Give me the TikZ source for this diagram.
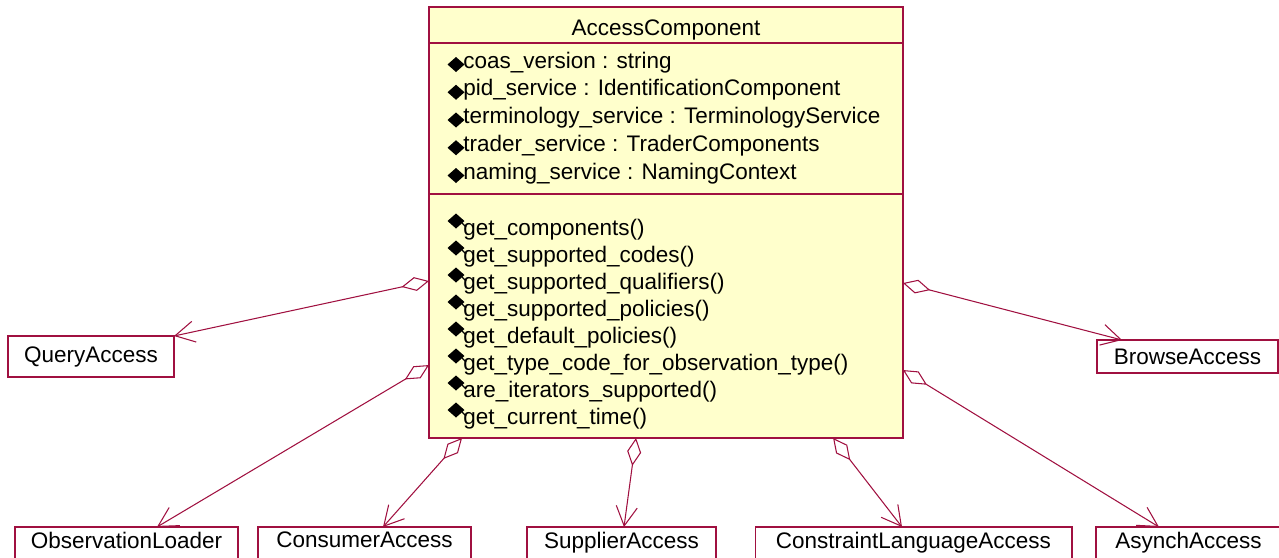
\documentclass[tikz,border=0pt]{standalone}
\usepackage{fontspec}
\setmainfont{Liberation Sans}
\usetikzlibrary{arrows.meta, positioning, calc}
\definecolor{umlred}{RGB}{160,16,64}
\definecolor{umlfill}{RGB}{255,255,204}
\newcommand{\umlfont}{\fontsize{12.8}{15}\selectfont}
\tikzset{
    classbox/.style={
        draw=umlred,
        fill=umlfill,
        line width=1.1pt,
        minimum width=9.48cm,
        minimum height=8.62cm,
        inner sep=0pt,
        outer sep=0pt
    },
    smallclass/.style={
        draw=umlred,
        line width=0.6pt,
        inner sep=0pt,
        outer sep=0pt,
        font=\umlfont
    },
    cutclass/.style={smallclass, anchor=north, minimum height=0.8cm, text depth=0.28cm},
    member/.style={anchor=base west, inner sep=0pt, font=\umlfont},
    divider/.style={draw=umlred, line width=1.1pt},
    agg/.style={draw=umlred, line width=0.6pt, {Diamond[open, length=16pt, width=8pt]}-{Straight Barb[length=11pt, width=12pt]}}
}

\begin{document}
\begin{tikzpicture}[x=0.02cm,y=-0.02cm]
\clip (0,0) rectangle (1279,558);

% AccessComponent
\node[classbox] (main) at (666,222.5) {};
\draw[divider] (main.north west) ++(0,36) -- ++(474,0);
\draw[divider] (main.north west) ++(0,187) -- ++(474,0);
\node[member, anchor=base] (main-title) at (666,35) {AccessComponent};

% attributes
\foreach \txt [count=\i from 0] in {coas\_version : string, pid\_service : IdentificationComponent, terminology\_service : TerminologyService, trader\_service : TraderComponents, naming\_service : NamingContext} {
    \fill (456,64.5+27.75*\i) +(-8.5,0) -- +(0,-7.5) -- +(8.5,0) -- +(0,7.5) -- cycle;
    \node[member] (attr-\i) at (463,68+27.75*\i) {\txt};
}

% operations
\foreach \txt [count=\i from 0] in {get\_components(), get\_supported\_codes(), get\_supported\_qualifiers(), get\_supported\_policies(), get\_default\_policies(), get\_type\_code\_for\_observation\_type(), are\_iterators\_supported(), get\_current\_time()} {
    \fill (456,221+27*\i) +(-8.5,0) -- +(0,-7.5) -- +(8.5,0) -- +(0,7.5) -- cycle;
    \draw[line width=0.8pt] (462,223+27*\i) -- (466,227+27*\i);
    \node[member] (op-\i) at (463,235+27*\i) {\txt};
}

% parts
\node[smallclass, minimum width=3.32cm, minimum height=0.82cm] (query) at (91,356.5) {QueryAccess};
\node[smallclass, minimum width=3.62cm, minimum height=0.66cm] (browse) at (1187.5,356.5) {BrowseAccess};
\node[cutclass, minimum width=4.46cm] (obsloader) at (126.5,527) {ObservationLoader};
\node[cutclass, minimum width=4.26cm] (consumer) at (364.5,527) {ConsumerAccess};
\node[cutclass, minimum width=3.78cm] (supplier) at (621.5,527) {SupplierAccess};
\node[cutclass, minimum width=6.34cm] (constraint) at (913.5,527) {ConstraintLanguageAccess};
\node[cutclass, minimum width=3.70cm] (asynch) at (1188.5,527) {AsynchAccess};

% aggregations
\draw[agg] ($(main.north west)+(0,274)$) -- (query.north east);
\draw[agg] ($(main.north west)+(0,358)$) -- ($(obsloader.north)+(30.5,0)$);
\draw[agg] ($(main.south west)+(33,0)$) -- ($(consumer.north)+(18.5,0)$);
\draw[agg] ($(main.south west)+(207,0)$) -- ($(supplier.north)+(2.5,0)$);
\draw[agg] ($(main.south west)+(404,0)$) -- ($(constraint.north)+(-11.5,0)$);
\draw[agg] ($(main.north east)+(0,363)$) -- ($(asynch.north)+(-29.5,0)$);
\draw[agg] ($(main.north east)+(0,276)$) -- ($(browse.north west)+(25,0)$);
\end{tikzpicture}
\end{document}
